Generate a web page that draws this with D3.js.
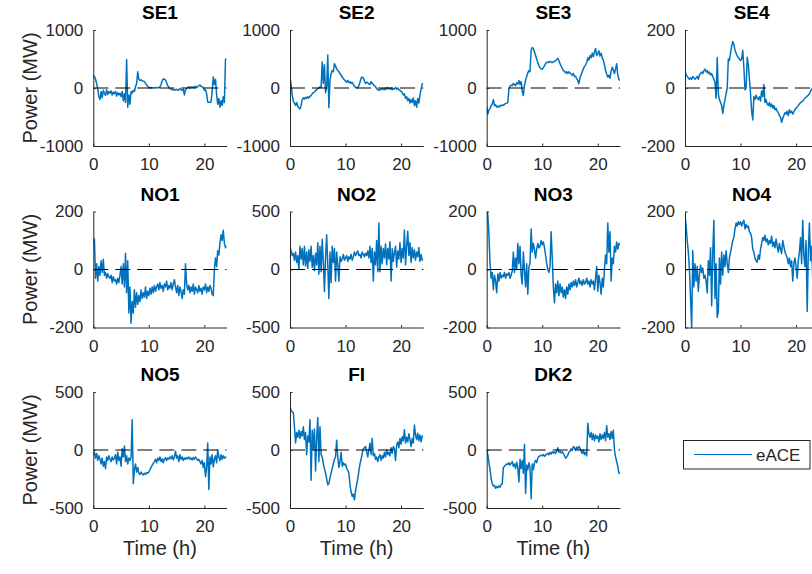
<!DOCTYPE html>
<html>
<head>
<meta charset="utf-8">
<script src="https://cdn.jsdelivr.net/npm/d3@7"></script>
<style>
  body { margin: 0; background: #fff; }
  svg { display: block; }
</style>
</head>
<body>
<svg id="chart" width="812" height="574"></svg>
<script>
// Bidding areas and their symmetric y limits (MW)
const areas   = ["SE1", "SE2", "SE3", "SE4", "NO1", "NO2", "NO3", "NO4", "NO5", "FI", "DK2"];
const yLimits = [1000, 1000, 1000, 200, 200, 500, 200, 200, 500, 500, 500];
const timeStep  = 0.2;          // hours between samples
const timeTicks = [0, 10, 20];
const seriesName = "eACE";

// eACE per area, one sample every 0.2 h from 0 h to 24 h (MW)
const eaceSE1 = [220,200,150,80,-20, -150,-200,-60,-170,-40, -90,-130,-30,-110,-60, -90,-50,-120,-70,-100,
  -60,-140,-80,-120,-90, -150,-60,-220,-100,-250, 490,-330,-120,-280,-60, -90,-40,-60,20,80,
  280,150,130,140,120, 120,110,80,50,30, 10,0,10,0,5, 0,10,0,5,10,
  20,60,120,160,150, 140,90,40,10,-10, -20,-30,-20,-40,-30, -20,-40,-30,-10,-30,
  -40,-20,-120,-30,-10, 10,20,0,20,10, 20,10,30,10,20, 40,50,30,20,10,
  -40,-30,-100,-240,-245, -245,-240,-60,190,60, 150,-120,-280,-180,-330, -220,-300,-150,-250,490, 510];

const eaceSE2 = [190,60,-120,-230,-260, -300,-250,-320,-340,-360, -300,-200,-170,-190,-160, -180,-150,-170,-140,-130,
  -100,-80,-70,-40,-30, -10,0,20,10,450, 80,400,-80,0,570, -340,130,240,300,280,
  420,380,330,300,280, 250,220,190,160,140, 120,100,130,90,110, 80,100,60,30,10,
  0,10,40,100,170, 190,170,120,80,100, 90,70,60,110,80, 60,40,20,-10,-30,
  -40,-20,-30,-10,-20, -30,0,-20,10,-10, -20,0,-30,-10,-20, 10,-20,0,-30,-40,
  -60,-80,-120,-100,-180, -150,-220,-180,-260,-200, -250,-170,-300,-220,-330, -180,-260,-120,-20,70, 80];

const eaceSE3 = [-330,-450,-380,-350,-300, -280,-200,-300,-290,-330, -310,-330,-300,-310,-290, -300,-280,-270,-260,-250,
  -10,30,50,40,80, 60,40,90,70,130, 60,110,-60,-130,50, 130,200,260,300,280,
  650,700,680,620,560, 500,440,380,350,330, 320,350,380,420,440, 450,440,460,450,440,
  450,460,470,490,510, 470,420,380,340,300, 290,260,280,250,280, 260,240,220,250,200,
  200,160,130,75,180, 230,280,330,370,400, 440,520,480,560,520, 600,540,620,680,560,
  590,640,550,600,520, 480,400,300,240,190, 220,170,290,360,310, 250,330,420,220,150, 130];

const eaceSE4 = [60,45,40,35,30, 35,30,40,35,30, 35,40,30,45,50, 55,50,60,65,55,
  60,50,55,45,50, 40,30,20,-35,105, -20,-40,-50,-60,-88, -60,-40,-20,0,100,
  95,120,145,160,150, 130,120,110,105,100, 95,100,130,70,-6, 0,106,80,30,-20,
  -80,-110,-30,-40,-25, -35,-40,-30,-45,-10, -30,12,-50,-40,-55, -60,-50,-65,-55,-70,
  -60,-75,-70,-80,-85, -95,-100,-118,-105,-95, -85,-90,-80,-95,-75, -85,-80,-90,-82,-75,
  -70,-65,-60,-55,-50, -48,-45,-40,-35,-32, -28,-25,-20,-12,-5, 0,5,10,15,20, 25];

const eaceNO1 = [85,105,-30,20,-40, 10,-20,30,-10,35, -20,-10,-30,-15,-25, -30,-20,-45,-25,-40,
  -35,-50,-30,-45,-20, 10,-50,20,-60,55, -80,30,-150,-60,-185, -110,-150,-70,-130,-80,
  -120,-90,-110,-70,-100, -80,-95,-60,-100,-75, -90,-65,-85,-60,-80, -55,-75,-60,-50,-70,
  -45,-65,-55,-75,-50, -60,-40,-70,-55,-65, -45,-70,-50,-35,-60, -80,-55,-90,-60,-75,
  -100,-70,-85,20,-50, -70,-55,-80,-60,-75, -50,-85,-60,-70,-80, -55,-75,-65,-85,-60,
  -70,-50,-80,-60,-75, -55,-65,-85,-90,0, 40,10,65,50,90, 120,100,135,90,75, 80];

const eaceNO2 = [190,160,120,140,80, 150,60,120,0,200, 90,180,40,200,30, 150,10,170,70,200,
  20,120,-10,140,40, 230,-40,200,-20,260, 60,-190,100,300,40, -250,150,-115,200,60,
  180,-100,150,40,-100, 110,70,90,130,80, 100,120,70,110,90, 130,80,110,150,120,
  140,160,120,130,100, 150,130,110,140,120, 160,100,200,60,180, -100,150,40,250,-20,
  400,-20,200,50,180, 100,220,40,180,90, 240,-100,180,70,150, 200,20,160,90,230,
  60,180,100,340,40, 200,330,120,230,60, 190,100,170,80,150, 110,190,70,130,80, 90];

const eaceNO3 = [200,190,120,20,-30, -10,-70,-20,-40,-80, -15,-40,-10,-30,-20, -25,-10,-30,-15,-20,
  -10,-30,-20,-5,60, -10,40,0,90,20, 80,-20,-50,60,0, -60,20,-85,10,20,
  140,60,90,70,40, 70,90,75,80,100, 85,95,75,50,20, 0,-10,10,130,40,
  -60,-115,-50,-80,-40, -90,-50,-80,-60,-95, -70,-100,-60,-85,-50, -70,-45,-60,-40,-55,
  -35,-60,-45,-30,-50, -40,-55,-35,-50,-45, -30,-50,-40,-60,-35, -50,-40,-70,-30,10,
  -75,-20,-45,-85,-30, -60,0,50,20,160, 60,130,-40,40,20, 80,60,95,70,90, 85];

const eaceNO4 = [190,150,100,60,0, -100,-200,65,-60,20, -40,10,-75,-20,15, -10,5,-30,-20,-40,
  -80,30,-20,75,-125, 60,170,-100,20,-165, -145,40,-50,60,-20, 50,10,65,20,-10,
  40,60,80,100,110, 140,160,150,165,155, 165,150,160,170,140, 155,145,150,130,125,
  110,70,60,40,30, 25,50,35,70,90, 110,100,118,95,105, 85,100,90,115,80,
  95,75,105,80,60, 90,70,55,100,80, 60,50,40,20,40, 10,30,-40,20,40,
  10,-30,30,60,110, 20,170,50,10,100, -145,60,160,30,80, -30,40,80,50,30, 60];

const eaceNO5 = [-40,-20,-70,-30,-90, -50,-80,-120,-70,-140, -100,-160,-60,-90,-50, -80,-100,-60,-85,-70,
  -40,-120,-20,-90,-60, -140,10,-60,35,-100, -50,-120,-70,-90,-60, 260,-290,-170,-120,-190,
  -150,-200,-210,-190,-205, -215,-200,-210,-195,-200, -190,-170,-150,-130,-115, -100,-80,-110,-70,-90,
  -60,-100,-75,-110,-80, -65,-90,-70,-80,-60, -75,-50,-85,-60,-10, -70,-50,-100,-40,-80,
  -60,-90,-70,-80,-65, -75,-60,-80,-70,-85, -65,-80,-60,-75,-90, -80,-100,-120,-90,-150,
  -110,-230,-150,60,-340, -60,-120,-40,-145,-80, -50,-110,0,-60,-90, -40,-80,-50,-70,-60, -65];

const eaceFI = [375,340,330,320,200, 60,150,110,170,100, 160,120,200,90,150, -40,120,70,260,-260,
  170,10,180,-180,100, 280,-100,200,-40,-60, -120,-160,-200,-250,-300, -290,-240,-200,-160,-120,
  -80,-60,85,-60,-150, -100,-20,-140,-110,-130, -120,-160,-175,-200,-300, -360,-400,-380,-430,-350,
  -300,-250,-180,-120,-80, -30,10,20,30,-10, -60,0,60,-40,100, -50,-30,-80,-60,-100,
  -60,-40,-90,-50,-70, -20,-60,0,-40,-20, -50,20,-30,30,10, -90,40,70,20,100,
  50,115,80,175,60, 110,70,140,90,30, 100,60,215,130,90, 145,80,130,70,120, 115];

const eaceDK2 = [0,-40,-110,-170,-250, -290,-310,-305,-330,-315, -325,-310,-320,-300,-290, -150,-140,-130,-120,-125,
  -110,-130,-115,-100,-140, -120,-160,-105,-150,-275, -80,-160,-90,-200,50, -375,-130,-170,-110,-150,
  -420,-120,-170,-110,-90, -110,-70,-55,-50,-45, -50,-40,-55,-45,-35, -30,-40,-20,-35,-15,
  -25,-15,-30,-10,20, -20,-10,-25,-15,-30, -50,-70,-60,-45,-20, -10,10,-5,30,20,
  0,25,10,30,15, -10,-30,0,-40,-20, -50,230,140,110,150, 90,140,80,130,100,
  120,70,140,90,130, 100,150,80,210,110, 140,90,160,100,170, 0,-60,-100,-140,-200, -200];

const eace = [eaceSE1, eaceSE2, eaceSE3, eaceSE4, eaceNO1, eaceNO2, eaceNO3, eaceNO4, eaceNO5, eaceFI, eaceDK2];

// ---- layout of the 3 x 4 subplot grid ----
const colLeft = [93.3, 290, 486.7, 685];
const rowTop  = [30, 211.5, 392];
const plotW = 133.3, plotH = 116;
const lineColor = "#0072BD";
const axisColor = "#262626";
const fontFamily = "'Liberation Sans', Arial, Helvetica, sans-serif";

const svg = d3.select("#chart");
svg.append("rect").attr("width", 812).attr("height", 574).attr("fill", "#fff");

areas.forEach((name, i) => {
  const row = Math.floor(i / 4), col = i % 4;
  const left = colLeft[col], top = rowTop[row];
  const lim = yLimits[i];
  const values = eace[i];
  const times = values.map((_, k) => k * timeStep);

  const x = d3.scaleLinear().domain([0, 24]).range([left, left + plotW]);
  const y = d3.scaleLinear().domain([-lim, lim]).range([top + plotH, top]);

  const g = svg.append("g");

  const clipId = "clip" + i;
  g.append("clipPath").attr("id", clipId)
    .append("rect")
    .attr("x", left).attr("y", top - 0.5)
    .attr("width", plotW).attr("height", plotH + 1);

  // eACE trace
  g.append("path")
    .datum(values)
    .attr("clip-path", `url(#${clipId})`)
    .attr("fill", "none")
    .attr("stroke", lineColor)
    .attr("stroke-width", 1.5)
    .attr("stroke-linejoin", "round")
    .attr("d", d3.line().x((d, k) => x(times[k])).y(d => y(d)));

  // zero reference
  g.append("line")
    .attr("x1", x(0)).attr("x2", x(24))
    .attr("y1", y(0)).attr("y2", y(0))
    .attr("stroke", "#000")
    .attr("stroke-width", 1.2)
    .attr("stroke-dasharray", "15,7");

  // axes (left and bottom only, ticks pointing inward)
  const yAxis = g.append("g")
    .attr("transform", `translate(${left},0)`)
    .call(d3.axisLeft(y).tickValues([-lim, 0, lim]).tickFormat(d3.format("d"))
      .tickSizeInner(-2.5).tickSizeOuter(0).tickPadding(10));
  const xAxis = g.append("g")
    .attr("transform", `translate(0,${top + plotH})`)
    .call(d3.axisBottom(x).tickValues(timeTicks).tickFormat(d3.format("d"))
      .tickSizeInner(-2.5).tickSizeOuter(0).tickPadding(12));

  [yAxis, xAxis].forEach(a => {
    a.attr("font-family", fontFamily).attr("font-size", 17);
    a.select(".domain").attr("stroke", axisColor).attr("stroke-width", 1);
    a.selectAll(".tick line").attr("stroke", axisColor);
    a.selectAll(".tick text").attr("fill", axisColor);
  });
  yAxis.selectAll(".tick text").text(d => d < 0 ? "-" + Math.abs(d) : d);

  // subplot title
  g.append("text")
    .attr("x", left + plotW / 2).attr("y", top - 11)
    .attr("text-anchor", "middle")
    .attr("font-family", fontFamily).attr("font-size", 19).attr("font-weight", "bold")
    .attr("fill", "#000")
    .text(name);

  if (col === 0) {
    g.append("text")
      .attr("transform", `translate(37,${top + plotH / 2}) rotate(-90)`)
      .attr("text-anchor", "middle")
      .attr("font-family", fontFamily).attr("font-size", 20)
      .attr("fill", axisColor)
      .text("Power (MW)");
  }
  if (row === 2) {
    g.append("text")
      .attr("x", left + plotW / 2).attr("y", top + plotH + 47)
      .attr("text-anchor", "middle")
      .attr("font-family", fontFamily).attr("font-size", 20)
      .attr("fill", axisColor)
      .text("Time (h)");
  }
});

// legend
const legend = svg.append("g");
legend.append("rect")
  .attr("x", 683.5).attr("y", 440.5).attr("width", 126.5).attr("height", 28.5)
  .attr("fill", "#fff").attr("stroke", axisColor).attr("stroke-width", 1);
legend.append("line")
  .attr("x1", 694).attr("x2", 752).attr("y1", 454.5).attr("y2", 454.5)
  .attr("stroke", lineColor).attr("stroke-width", 1.2);
legend.append("text")
  .attr("x", 756).attr("y", 460.5)
  .attr("font-family", fontFamily).attr("font-size", 17)
  .attr("fill", axisColor)
  .text(seriesName);
</script>
</body>
</html>
